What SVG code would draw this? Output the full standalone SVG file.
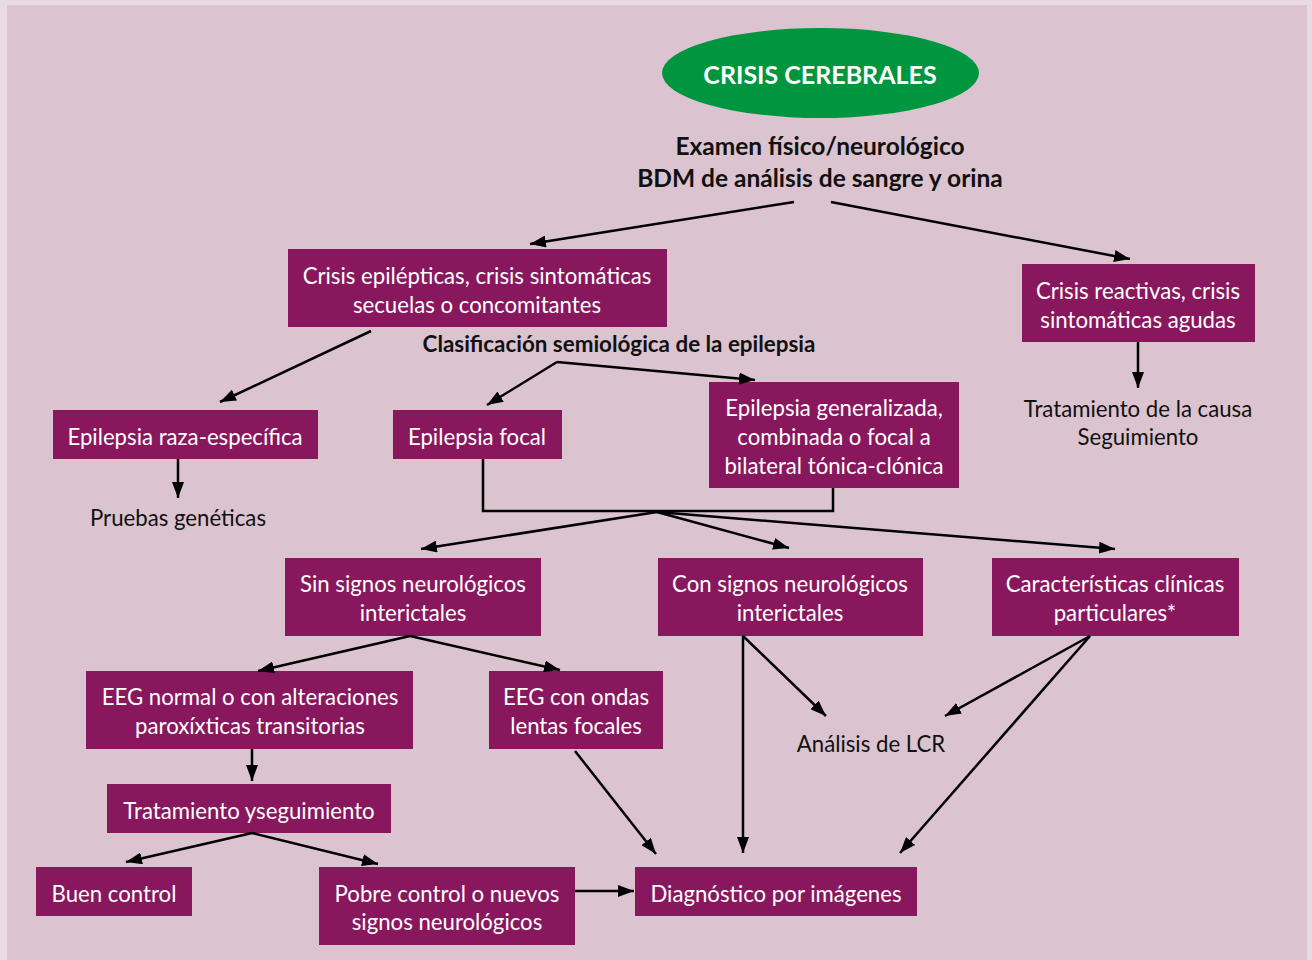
<svg xmlns="http://www.w3.org/2000/svg" width="1312" height="960" viewBox="0 0 1312 960">
<defs>
<style>
.box{fill:#89175d}
.bt{fill:#ffffff;font-family:Lato,"Open Sans",sans-serif;font-size:22.2px;text-anchor:middle}
.t{fill:#111111;font-family:Lato,"Open Sans",sans-serif;font-size:22.2px;text-anchor:middle}
.tb{fill:#111111;font-family:Lato,"Open Sans",sans-serif;font-size:24.5px;font-weight:bold;text-anchor:middle}
.tb.s{font-size:22.4px}
.c line,.c polyline{stroke:#000;stroke-width:2.5;fill:none}
.c .a{marker-end:url(#ah)}
</style>
<marker id="ah" viewBox="0 0 16 12" refX="16" refY="6" markerWidth="16" markerHeight="12" markerUnits="userSpaceOnUse" orient="auto">
<path d="M0,0 L16,6 L0,12 z" fill="#000"/>
</marker>
</defs>
<rect x="0" y="0" width="1312" height="960" fill="#e8dbe2"/>
<rect x="7" y="5" width="1300" height="955" fill="#dbc3cf"/>

<g id="n-crisis">
<ellipse cx="820.5" cy="73" rx="158.5" ry="45" fill="#00953f"/>
<text x="820" y="84" fill="#fff" font-family="Lato,'Open Sans',sans-serif" font-size="25" font-weight="bold" text-anchor="middle">CRISIS CEREBRALES</text>
</g>
<g id="n-examen">
<text class="tb" x="820" y="155">Examen físico/neurológico</text>
<text class="tb" x="820" y="187">BDM de análisis de sangre y orina</text>
</g>
<g id="n-epilepticas">
<rect class="box" x="288" y="249" width="379" height="78"/>
<text class="bt" x="477" y="284">Crisis epilépticas, crisis sintomáticas</text>
<text class="bt" x="477" y="313">secuelas o concomitantes</text>
</g>
<g id="n-reactivas">
<rect class="box" x="1022" y="264" width="233" height="78"/>
<text class="bt" x="1138" y="299">Crisis reactivas, crisis</text>
<text class="bt" x="1138" y="328">sintomáticas agudas</text>
</g>
<g id="n-tratcausa">
<text class="t" x="1138" y="417">Tratamiento de la causa</text>
<text class="t" x="1138" y="445">Seguimiento</text>
</g>
<g id="n-clasif">
<text class="tb s" x="619" y="352">Clasificación semiológica de la epilepsia</text>
</g>
<g id="n-raza">
<rect class="box" x="53" y="410" width="265" height="49"/>
<text class="bt" x="185" y="445">Epilepsia raza-específica</text>
</g>
<g id="n-pruebas">
<text class="t" x="178" y="526">Pruebas genéticas</text>
</g>
<g id="n-focal">
<rect class="box" x="393" y="410" width="169" height="49"/>
<text class="bt" x="477" y="445">Epilepsia focal</text>
</g>
<g id="n-generalizada">
<rect class="box" x="709" y="382" width="250" height="106"/>
<text class="bt" x="834" y="416">Epilepsia generalizada,</text>
<text class="bt" x="834" y="445">combinada o focal a</text>
<text class="bt" x="834" y="474">bilateral tónica-clónica</text>
</g>
<g id="n-sin">
<rect class="box" x="285" y="558" width="256" height="78"/>
<text class="bt" x="413" y="592">Sin signos neurológicos</text>
<text class="bt" x="413" y="621">interictales</text>
</g>
<g id="n-con">
<rect class="box" x="658" y="558" width="265" height="78"/>
<text class="bt" x="790" y="592">Con signos neurológicos</text>
<text class="bt" x="790" y="621">interictales</text>
</g>
<g id="n-caract">
<rect class="box" x="992" y="558" width="247" height="78"/>
<text class="bt" x="1115" y="592">Características clínicas</text>
<text class="bt" x="1115" y="621">particulares*</text>
</g>
<g id="n-eegnormal">
<rect class="box" x="86" y="671" width="327" height="78"/>
<text class="bt" x="250" y="705">EEG normal o con alteraciones</text>
<text class="bt" x="250" y="734">paroxíxticas transitorias</text>
</g>
<g id="n-eegondas">
<rect class="box" x="489" y="671" width="174" height="78"/>
<text class="bt" x="576" y="705">EEG con ondas</text>
<text class="bt" x="576" y="734">lentas focales</text>
</g>
<g id="n-lcr">
<text class="t" x="871" y="752">Análisis de LCR</text>
</g>
<g id="n-tratseg">
<rect class="box" x="107" y="784" width="284" height="49"/>
<text class="bt" x="249" y="819">Tratamiento yseguimiento</text>
</g>
<g id="n-buen">
<rect class="box" x="36" y="867" width="156" height="49"/>
<text class="bt" x="114" y="902">Buen control</text>
</g>
<g id="n-pobre">
<rect class="box" x="319" y="867" width="256" height="78"/>
<text class="bt" x="447" y="902">Pobre control o nuevos</text>
<text class="bt" x="447" y="930">signos neurológicos</text>
</g>
<g id="n-diag">
<rect class="box" x="635" y="867" width="282" height="49"/>
<text class="bt" x="776" y="902">Diagnóstico por imágenes</text>
</g>

<g id="connectors" class="c">
<line class="a" x1="794" y1="202" x2="530" y2="244"/>
<line class="a" x1="831" y1="202" x2="1130" y2="259"/>
<line class="a" x1="371" y1="331" x2="220" y2="402"/>
<line class="a" x1="1138" y1="342" x2="1138" y2="388"/>
<line class="a" x1="557" y1="362" x2="487" y2="405"/>
<line class="a" x1="557" y1="362" x2="755" y2="380"/>
<line class="a" x1="178" y1="459" x2="178" y2="498"/>
<polyline points="483,459 483,511 833,511 833,488"/>
<line class="a" x1="657" y1="512" x2="421" y2="549"/>
<line class="a" x1="657" y1="512" x2="789" y2="548"/>
<line class="a" x1="657" y1="512" x2="1115" y2="549"/>
<line class="a" x1="410" y1="636" x2="258" y2="671"/>
<line class="a" x1="410" y1="636" x2="560" y2="670"/>
<line class="a" x1="252" y1="749" x2="252" y2="781"/>
<line class="a" x1="252" y1="833" x2="126" y2="862"/>
<line class="a" x1="252" y1="833" x2="378" y2="864"/>
<line class="a" x1="575" y1="891" x2="634" y2="891"/>
<line class="a" x1="575" y1="751" x2="656" y2="854"/>
<line class="a" x1="743" y1="636" x2="743" y2="853"/>
<line class="a" x1="743" y1="636" x2="826" y2="716"/>
<line class="a" x1="1090" y1="636" x2="945" y2="716"/>
<line class="a" x1="1090" y1="636" x2="900" y2="853"/>
</g>
</svg>
